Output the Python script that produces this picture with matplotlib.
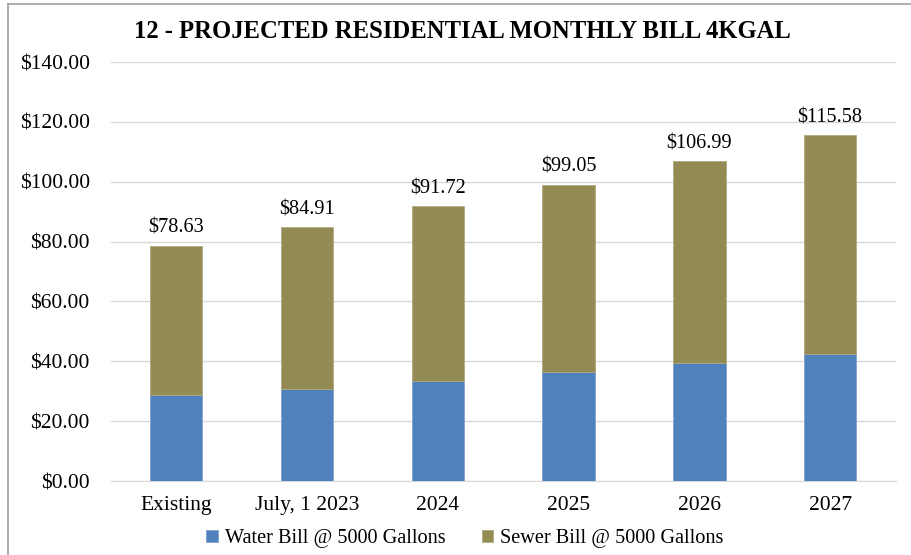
import matplotlib.pyplot as plt
import numpy as np
from matplotlib.ticker import FuncFormatter

categories = ["Existing", "July, 1 2023", "2024", "2025", "2026", "2027"]
totals = [78.63, 84.91, 91.72, 99.05, 106.99, 115.58]
water = [28.6, 30.9, 33.4, 36.4, 39.3, 42.5]
sewer = [t - w for t, w in zip(totals, water)]

plt.rcParams['font.family'] = ['Liberation Serif', 'DejaVu Serif']

fig = plt.figure(figsize=(9.12, 5.55), dpi=100)
ax = fig.add_axes([110.6 / 912, 1 - 481 / 555, 785 / 912, 419 / 555])

x = np.arange(len(categories))
w = 0.4
ax.bar(x, water, w, color='#4f81bd', edgecolor='#7fa3cf', linewidth=0.6,
       label='Water Bill @ 5000 Gallons', zorder=3)
ax.bar(x, sewer, w, bottom=water, color='#948a54', edgecolor='#b1a97f', linewidth=0.6,
       label='Sewer Bill @ 5000 Gallons', zorder=3)

for xi, t in zip(x, totals):
    ax.text(xi, t + 2.6, "${:.2f}".format(t), ha='center', va='bottom', fontsize=14.6)

ax.set_xlim(-0.5, len(categories) - 0.5)
ax.set_ylim(0, 140)
ax.set_yticks(np.arange(0, 141, 20))
ax.yaxis.set_major_formatter(FuncFormatter(lambda v, p: "${:.2f}".format(v)))
ax.set_xticks(x)
ax.set_xticklabels(categories)
ax.tick_params(axis='both', length=0, labelsize=15.5)
ax.tick_params(axis='y', pad=15)
ax.tick_params(axis='x', pad=11)
ax.grid(axis='y', color='#d9d9d9', linewidth=1, zorder=0)
for s in ['top', 'right', 'left']:
    ax.spines[s].set_visible(False)
ax.spines['bottom'].set_color('#d9d9d9')

fig.text(462 / 912, 1 - 32 / 555, "12 - PROJECTED RESIDENTIAL MONTHLY BILL 4KGAL",
         ha='center', va='center', fontsize=17.7, fontweight='bold')

fig.legend(loc='center', bbox_to_anchor=(465 / 912, 1 - 539 / 555), ncol=2,
           frameon=False, fontsize=14.6, handlelength=0.55, handleheight=0.55,
           handletextpad=0.35, columnspacing=1.8)

# outer frame of the chart area
fig.add_artist(plt.Line2D([8 / 912, 8 / 912], [0, 1 - 4 / 555], color='#a0a0a0', lw=1.2))
fig.add_artist(plt.Line2D([8 / 912, 1], [1 - 4 / 555, 1 - 4 / 555], color='#a0a0a0', lw=1.2))

fig.savefig("out.png", dpi=100)
